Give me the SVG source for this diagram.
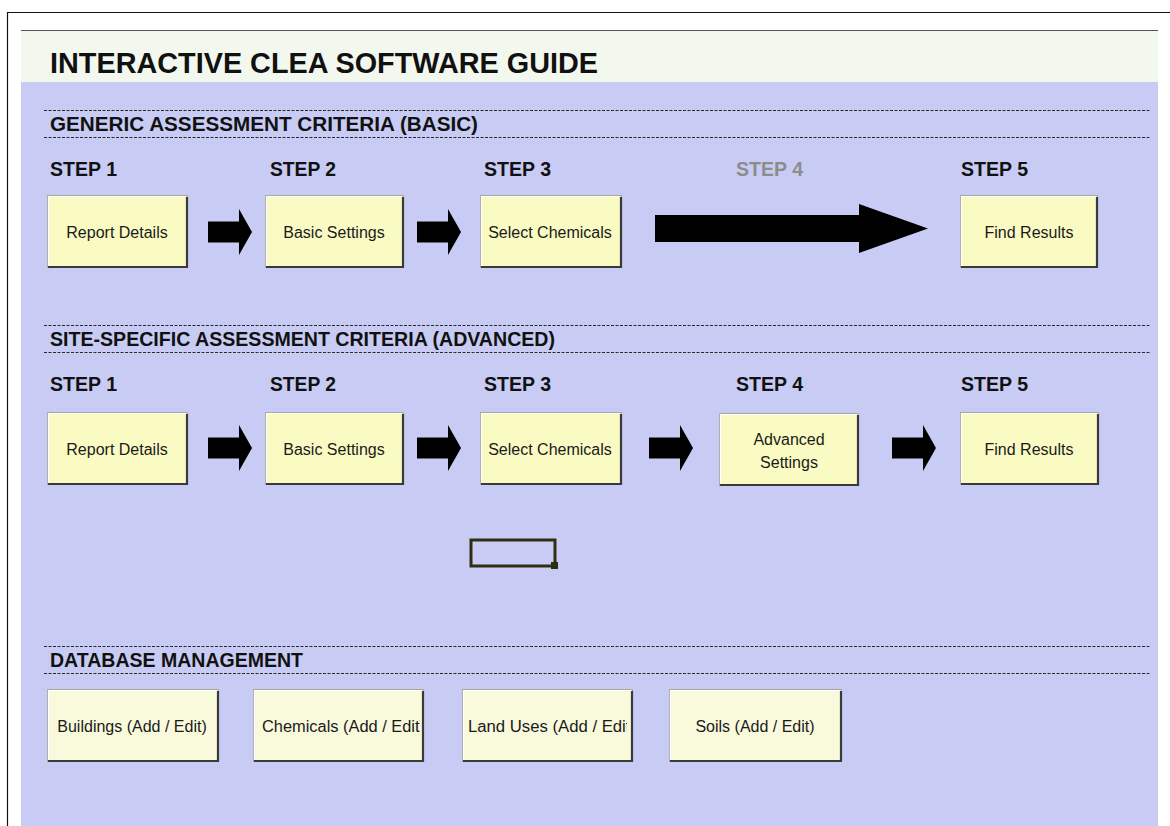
<svg xmlns="http://www.w3.org/2000/svg" width="1170" height="826" viewBox="0 0 1170 826">
<style>
.hd{font-family:"Liberation Sans",Arial,sans-serif;font-weight:bold;fill:#111;}
.step{font-family:"Liberation Sans",Arial,sans-serif;font-weight:bold;font-size:21px;fill:#111;}
.lbl{font-family:"Liberation Sans",Arial,sans-serif;font-size:16px;fill:#1a1a1a;text-anchor:middle;}
.lbs{font-family:"Liberation Sans",Arial,sans-serif;font-size:16px;fill:#1a1a1a;text-anchor:start;}
.bx{fill:#fafac3;stroke:#a8a8a0;stroke-width:1;}
.dbx{fill:#f9f9dc;stroke:#a8a8a0;stroke-width:1;}
.hi{fill:none;stroke:#ffffff;stroke-width:1.2;}
.sh{fill:none;stroke:#3a3a3a;stroke-width:2.2;}
.dash{stroke:#2a2a2a;stroke-width:1;stroke-dasharray:3 1.5;}
.arr{fill:#000;}
</style>
<defs>
<path id="sa" d="M0,-10.5 H31 V-23 L44,0 L31,23 V10.5 H0 Z"/>
<clipPath id="clipChem"><rect x="254" y="690" width="166" height="70"/></clipPath>
<clipPath id="clipLand"><rect x="463" y="690" width="164" height="70"/></clipPath>
</defs>
<rect width="1170" height="826" fill="#ffffff"/>
<g id="frame">
<line x1="7" y1="12.5" x2="1170" y2="12.5" stroke="#111" stroke-width="1.2"/>
<line x1="7.5" y1="12" x2="7.5" y2="826" stroke="#111" stroke-width="1.2"/>
<rect x="21" y="30" width="1137" height="52" fill="#f3f8ef"/>
<rect x="21" y="82" width="1137" height="744" fill="#c8ccf4"/>
<line x1="21" y1="30.5" x2="1158" y2="30.5" stroke="#555" stroke-width="1.2"/>
</g>
<g id="titles">
<text class="hd" x="50" y="73" font-size="29" textLength="548" lengthAdjust="spacingAndGlyphs">INTERACTIVE CLEA SOFTWARE GUIDE</text>
<line class="dash" x1="44" y1="110.5" x2="1151" y2="110.5"/>
<line class="dash" x1="44" y1="137.5" x2="1151" y2="137.5"/>
<text class="hd" x="50" y="131" font-size="21" textLength="428" lengthAdjust="spacingAndGlyphs">GENERIC ASSESSMENT CRITERIA (BASIC)</text>
<line class="dash" x1="44" y1="325.5" x2="1151" y2="325.5"/>
<line class="dash" x1="44" y1="352.5" x2="1151" y2="352.5"/>
<text class="hd" x="50" y="346" font-size="21" textLength="505" lengthAdjust="spacingAndGlyphs">SITE-SPECIFIC ASSESSMENT CRITERIA (ADVANCED)</text>
<line class="dash" x1="44" y1="646.5" x2="1151" y2="646.5"/>
<line class="dash" x1="44" y1="673.5" x2="1151" y2="673.5"/>
<text class="hd" x="50" y="667" font-size="21" textLength="253" lengthAdjust="spacingAndGlyphs">DATABASE MANAGEMENT</text>
</g>
<g id="steps-basic">
<text class="step" x="50" y="176" textLength="67" lengthAdjust="spacingAndGlyphs">STEP 1</text>
<text class="step" x="270" y="176" textLength="66" lengthAdjust="spacingAndGlyphs">STEP 2</text>
<text class="step" x="484" y="176" textLength="67" lengthAdjust="spacingAndGlyphs">STEP 3</text>
<text class="step" x="736" y="176" textLength="67" lengthAdjust="spacingAndGlyphs" style="fill:#8c8c8c">STEP 4</text>
<text class="step" x="961" y="176" textLength="67" lengthAdjust="spacingAndGlyphs">STEP 5</text>
</g>
<g id="steps-advanced">
<text class="step" x="50" y="391" textLength="67" lengthAdjust="spacingAndGlyphs">STEP 1</text>
<text class="step" x="270" y="391" textLength="66" lengthAdjust="spacingAndGlyphs">STEP 2</text>
<text class="step" x="484" y="391" textLength="67" lengthAdjust="spacingAndGlyphs">STEP 3</text>
<text class="step" x="736" y="391" textLength="67" lengthAdjust="spacingAndGlyphs">STEP 4</text>
<text class="step" x="961" y="391" textLength="67" lengthAdjust="spacingAndGlyphs">STEP 5</text>
</g>
<g id="connectors">
<use href="#sa" class="arr" x="208" y="232"/>
<use href="#sa" class="arr" x="417" y="232"/>
<path class="arr" d="M655,215 H859 V204 L928,228.5 L859,253 V242 H655 Z"/>
<use href="#sa" class="arr" x="208" y="448"/>
<use href="#sa" class="arr" x="417" y="448"/>
<use href="#sa" class="arr" x="649" y="448"/>
<use href="#sa" class="arr" x="892" y="448"/>
</g>
<g id="b1-report">
<rect class="bx" x="47.5" y="195.5" width="140" height="72"/>
<path class="hi" d="M48.5,266 V196.5 H186"/><path class="sh" d="M48,267 H187 V197"/>
<text class="lbl" x="117" y="238">Report Details</text>
</g>
<g id="b1-basic">
<rect class="bx" x="265.5" y="195.5" width="138" height="72"/>
<path class="hi" d="M266.5,266 V196.5 H402"/><path class="sh" d="M266,267 H403 V197"/>
<text class="lbl" x="334" y="238">Basic Settings</text>
</g>
<g id="b1-select">
<rect class="bx" x="480.5" y="195.5" width="141" height="72"/>
<path class="hi" d="M481.5,266 V196.5 H620"/><path class="sh" d="M481,267 H621 V197"/>
<text class="lbl" x="550" y="238">Select Chemicals</text>
</g>
<g id="b1-find">
<rect class="bx" x="960.5" y="195.5" width="137" height="72"/>
<path class="hi" d="M961.5,266 V196.5 H1096"/><path class="sh" d="M961,267 H1097 V197"/>
<text class="lbl" x="1029" y="238">Find Results</text>
</g>
<g id="b2-report">
<rect class="bx" x="47.5" y="412.5" width="140" height="72"/>
<path class="hi" d="M48.5,483 V413.5 H186"/><path class="sh" d="M48,484 H187 V414"/>
<text class="lbl" x="117" y="455">Report Details</text>
</g>
<g id="b2-basic">
<rect class="bx" x="265.5" y="412.5" width="138" height="72"/>
<path class="hi" d="M266.5,483 V413.5 H402"/><path class="sh" d="M266,484 H403 V414"/>
<text class="lbl" x="334" y="455">Basic Settings</text>
</g>
<g id="b2-select">
<rect class="bx" x="480.5" y="412.5" width="141" height="72"/>
<path class="hi" d="M481.5,483 V413.5 H620"/><path class="sh" d="M481,484 H621 V414"/>
<text class="lbl" x="550" y="455">Select Chemicals</text>
</g>
<g id="b2-advanced">
<rect class="bx" x="719.5" y="413.5" width="139" height="72"/>
<path class="hi" d="M720.5,484 V414.5 H857"/><path class="sh" d="M720,485 H858 V415"/>
<text class="lbl" x="789" y="445">Advanced</text>
<text class="lbl" x="789" y="468">Settings</text>
</g>
<g id="b2-find">
<rect class="bx" x="960.5" y="412.5" width="138" height="72"/>
<path class="hi" d="M961.5,483 V413.5 H1097"/><path class="sh" d="M961,484 H1098 V414"/>
<text class="lbl" x="1029" y="455">Find Results</text>
</g>
<g id="selection-marker">
<rect x="471" y="540" width="84" height="26" fill="none" stroke="#2e2e10" stroke-width="3"/>
<rect x="551" y="562" width="7" height="7" fill="#2e2e10"/>
</g>
<g id="db-buildings">
<rect class="dbx" x="47.5" y="689.5" width="171" height="72"/>
<path class="hi" d="M48.5,760 V690.5 H217"/><path class="sh" d="M48,761 H218 V691"/>
<text class="lbl" x="132" y="732">Buildings (Add / Edit)</text>
</g>
<g id="db-chemicals">
<rect class="dbx" x="253.5" y="689.5" width="170" height="72"/>
<path class="hi" d="M254.5,760 V690.5 H422"/><path class="sh" d="M254,761 H423 V691"/>
<text class="lbs" x="262" y="732" textLength="163" lengthAdjust="spacingAndGlyphs" clip-path="url(#clipChem)">Chemicals (Add / Edit)</text>
</g>
<g id="db-landuses">
<rect class="dbx" x="462.5" y="689.5" width="170" height="72"/>
<path class="hi" d="M463.5,760 V690.5 H631"/><path class="sh" d="M463,761 H632 V691"/>
<text class="lbs" x="468" y="732" textLength="168" lengthAdjust="spacingAndGlyphs" clip-path="url(#clipLand)">Land Uses (Add / Edit)</text>
</g>
<g id="db-soils">
<rect class="dbx" x="669.5" y="689.5" width="172" height="72"/>
<path class="hi" d="M670.5,760 V690.5 H840"/><path class="sh" d="M670,761 H841 V691"/>
<text class="lbl" x="755" y="732">Soils (Add / Edit)</text>
</g>
</svg>
